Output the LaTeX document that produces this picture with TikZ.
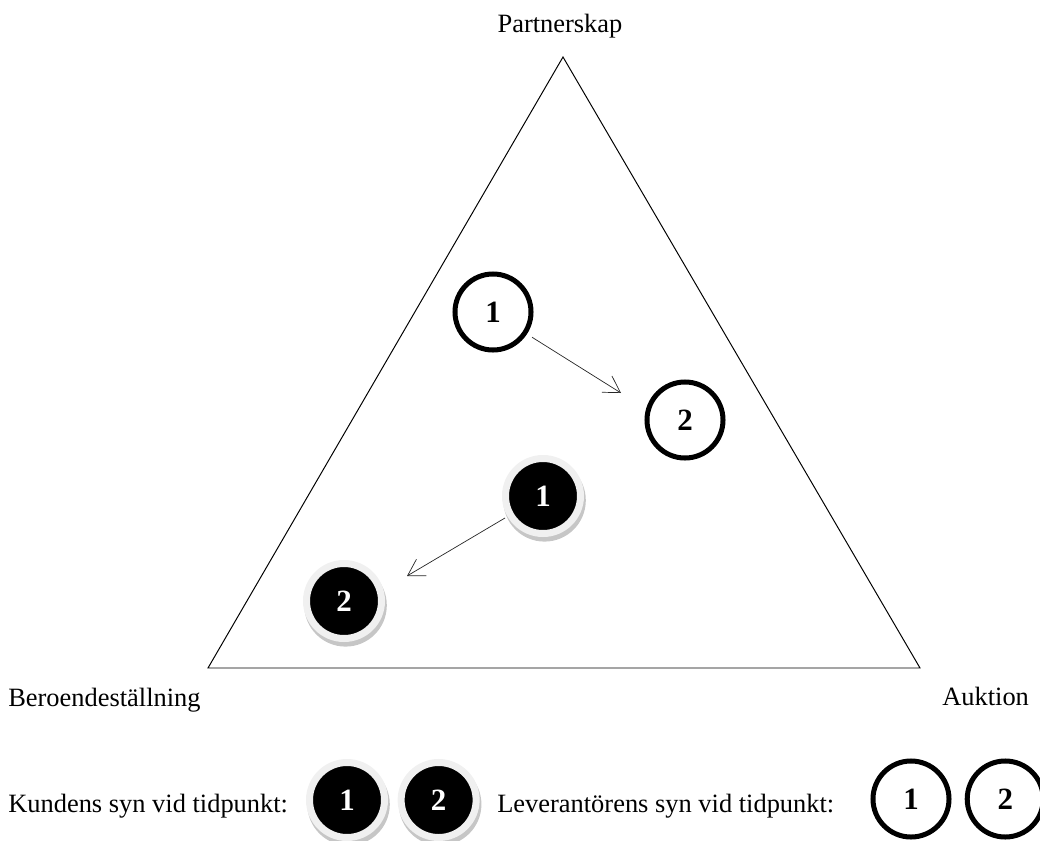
\documentclass[tikz,border=0pt]{standalone}
\usepackage{fontspec}
\setmainfont{Liberation Serif}
\usetikzlibrary{arrows.meta,positioning,shadows}

\begin{document}
\begin{tikzpicture}[
    x=0.025cm, y=-0.025cm,
    every node/.style={inner sep=0pt},
    txt/.style={font=\fontsize{18.8}{22}\selectfont},
    lev/.style={circle,draw,line width=1.25mm,minimum size=1.9cm,font=\fontsize{22}{24}\selectfont\bfseries},
    kund/.style={circle,fill=black,draw=gray!12,line width=1.75mm,minimum size=1.875cm,text=white,
        font=\fontsize{22}{24}\selectfont\bfseries,
        drop shadow={shadow xshift=1pt,shadow yshift=-2.8pt,shadow scale=1.1,fill=gray!45,opacity=1}},
    arrow/.style={-{Straight Barb[length=4mm,width=4.8mm]},line width=0.5pt,black!85}
]
\useasboundingbox (0,0) rectangle (1040,841);
% triangle
\coordinate (top) at (563,57);
\coordinate (left) at (208,668);
\coordinate (right) at (920,668);
\draw[line width=0.7pt] (top) -- (right) -- (left) -- cycle;
\node[txt,anchor=base] (partner) at (560,33) {Partnerskap};
\node[txt,anchor=base west] (beroende) at (8,706) {Beroendeställning};
\node[txt,anchor=base west] (auktion) at (942,705) {Auktion};
% leverantorens syn
\node[lev] (l1) at (493,312) {1};
\node[lev] (l2) at (685,420) {2};
\coordinate (l2tip) at (621,393);
\draw[arrow,shorten <=0.15cm] (l1.-33) -- (l2tip);
% kundens syn
\node[kund] (k1) at (543,496) {1};
\node[kund] (k2) at (344,601) {2};
\coordinate (k2tip) at (407,576);
\draw[arrow,shorten <=0.07cm] (k1.210) -- (k2tip);
% legend
\node[txt,anchor=base west] (kundtxt) at (8,812) {Kundens syn vid tidpunkt:};
\node[kund] (lk1) at (347,800) {1};
\node[kund,right=0.24cm of lk1] (lk2) {2};
\node[txt,anchor=base west] (levtxt) at (497,812) {Leverantörens syn vid tidpunkt:};
\node[lev] (ll1) at (911,799) {1};
\node[lev,right=0.33cm of ll1] (ll2) {2};
\end{tikzpicture}
\end{document}
